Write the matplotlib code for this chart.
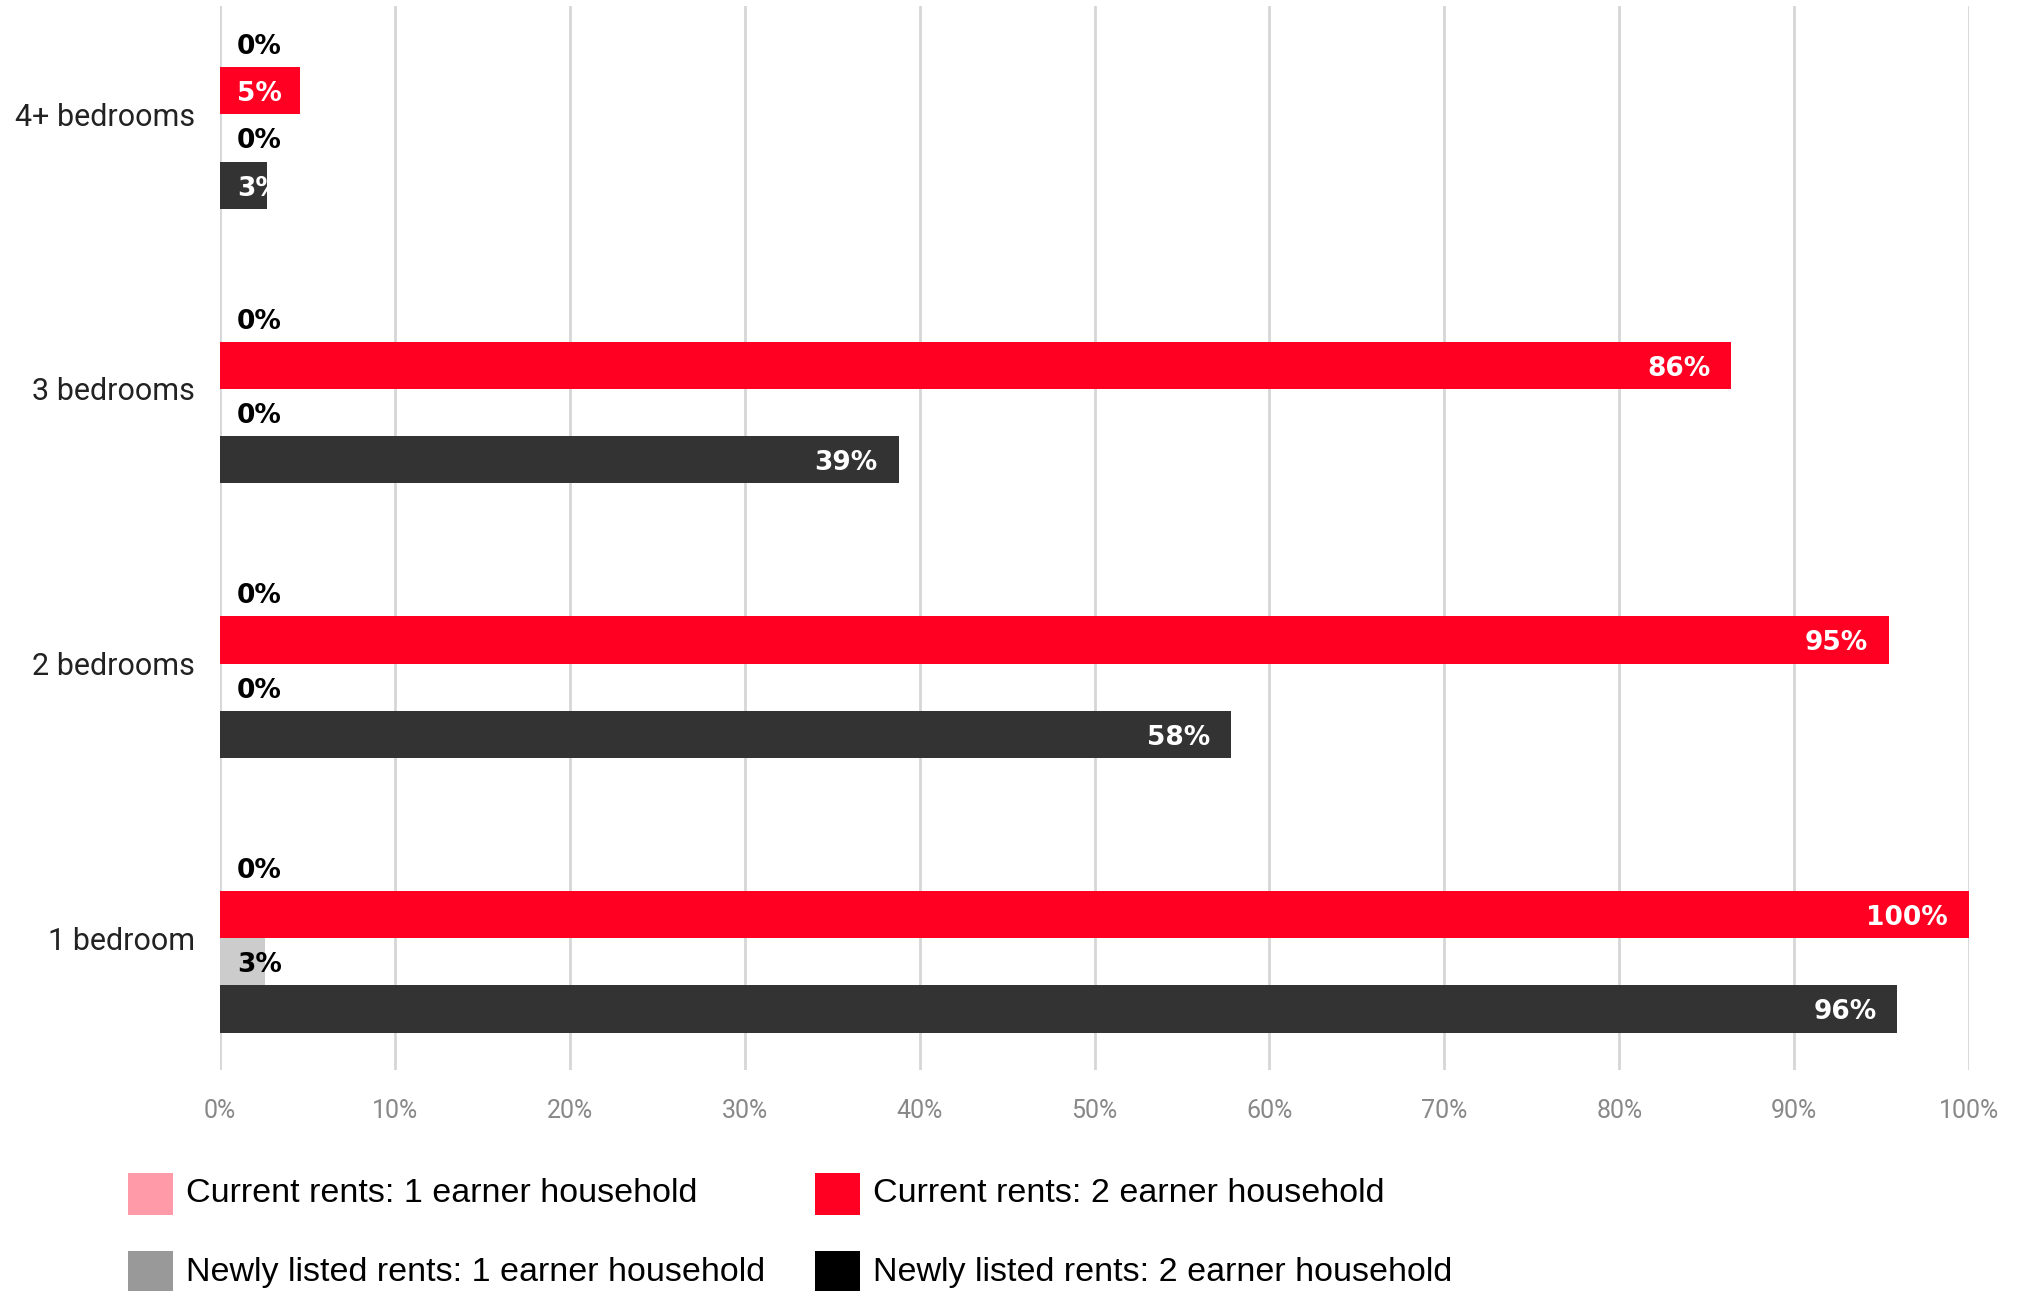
import numpy as np
import matplotlib
matplotlib.use("Agg")
import matplotlib.pyplot as plt
from matplotlib.patches import Rectangle

# data (share in percent)
categories = ["4+ bedrooms", "3 bedrooms", "2 bedrooms", "1 bedroom"]
current_1 = [0, 0, 0, 0]
current_2 = [4.6, 86.4, 95.4, 100]
newly_1 = [0, 0, 0, 2.6]
newly_2 = [2.7, 38.8, 57.8, 95.9]

series_names = ["Current rents: 1 earner household",
                "Current rents: 2 earner household",
                "Newly listed rents: 1 earner household",
                "Newly listed rents: 2 earner household"]
bar_colors = ["#ff9aa8", "#ff0022", "#cccccc", "#333333"]
legend_colors = ["#ff9aa8", "#ff0022", "#999999", "#000000"]
label_colors = ["black", "white", "black", "white"]

xticks = np.arange(0, 101, 10)

FONT = "Roboto"
plt.rcParams['font.family'] = [FONT, 'DejaVu Sans']

fig = plt.figure(figsize=(20.26, 12.91), dpi=100)
ax = fig.add_axes([0.1086, 0.1712, 0.8633, 0.8242])

y = np.arange(len(categories))
h = 0.172
offsets = [-1.5 * h, -0.5 * h, 0.5 * h, 1.5 * h]
all_series = [current_1, current_2, newly_1, newly_2]

for vals, off, col, lcol in zip(all_series, offsets, bar_colors, label_colors):
    bars = ax.barh(y + off, vals, height=h, color=col, zorder=2)
    for b, v in zip(bars, vals):
        txt = f"{v:.0f}%"
        yc = b.get_y() + b.get_height() / 2
        if v < 10:
            t = ax.annotate(txt, (0, yc), xytext=(12, -2.5), textcoords="offset points",
                            ha="left", va="center", fontsize=19, fontweight="bold",
                            family="DejaVu Sans",
                            color=lcol if v > 0 else "black", zorder=3)
            if v > 0 and lcol == "white":
                t.set_clip_path(b)
        else:
            ax.annotate(txt, (v, yc), xytext=(-15, -2.5), textcoords="offset points",
                        ha="right", va="center", fontsize=19, fontweight="bold",
                        family="DejaVu Sans", color=lcol, zorder=3)

ax.set_xlim(0, 100)
ax.set_ylim(3 + 0.48, -0.395)
ax.set_yticks(y)
ax.set_yticklabels(categories, fontsize=22, color="#222222")
ax.set_xticks(xticks)
ax.set_xticklabels([f"{t}%" for t in xticks], fontsize=18, color="#888888")
ax.tick_params(axis="y", length=0, pad=18)
ax.tick_params(axis="x", length=0, pad=21)
ax.grid(axis="x", color="#d6d6d6", linewidth=2, zorder=0)
ax.grid(axis="y", visible=False)
for s in ax.spines.values():
    s.set_visible(False)

# legend, two columns
sq_w = 45 / 2026
sq_h = 42 / 1291
col_x = [128 / 2026, 815 / 2026]
row_y = [1194 / 1291, 1272 / 1291]
for i, (name, col) in enumerate(zip(series_names, legend_colors)):
    r, c = divmod(i, 2)
    x0 = col_x[c]
    yc = 1 - row_y[r]
    fig.add_artist(Rectangle((x0, yc - sq_h / 2), sq_w, sq_h, transform=fig.transFigure,
                             facecolor=col, edgecolor="none"))
    fig.text(x0 + 58 / 2026, yc, name, fontsize=24.5, va="center", ha="left",
             family=["Liberation Sans", "DejaVu Sans"], color="black")

fig.savefig("out.png", dpi=100)
